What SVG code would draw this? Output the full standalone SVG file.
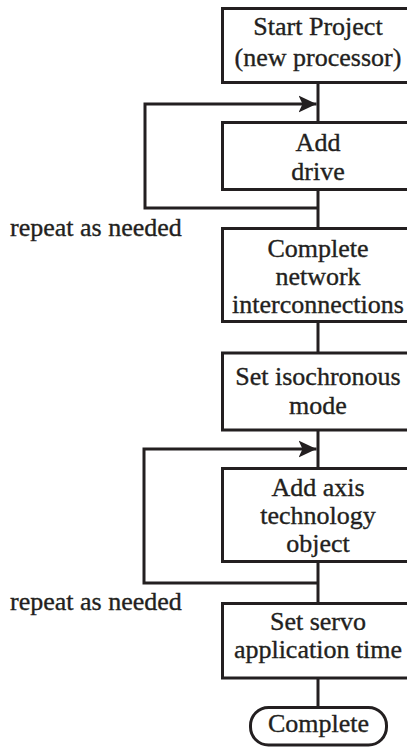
<svg xmlns="http://www.w3.org/2000/svg" width="407" height="747" viewBox="0 0 407 747">
  <style>
    .box { fill: #ffffff; stroke: #231f20; stroke-width: 3; }
    .wire { fill: none; stroke: #231f20; stroke-width: 3; }
    text { font-family: 'Liberation Serif', 'DejaVu Serif', serif; font-size: 26px; fill: #231f20; stroke: #231f20; stroke-width: 0.35; }
    .lbl { text-anchor: middle; }
  </style>
  <defs>
    <marker id="arrow" markerUnits="userSpaceOnUse" markerWidth="20" markerHeight="20" viewBox="0 0 20 20" refX="18" refY="10" orient="auto">
      <path d="M0,1.5 L18,10 L0,18.5 L4,10 Z" fill="#231f20"/>
    </marker>
  </defs>
  <rect width="407" height="747" fill="#ffffff"/>

  <!-- connectors -->
  <g id="connectors">
    <line class="wire" x1="318" y1="82" x2="318" y2="123"/>
    <line class="wire" x1="318" y1="189" x2="318" y2="229"/>
    <line class="wire" x1="318" y1="321" x2="318" y2="353"/>
    <line class="wire" x1="318" y1="430" x2="318" y2="469"/>
    <line class="wire" x1="318" y1="561" x2="318" y2="604"/>
    <line class="wire" x1="318" y1="678" x2="318" y2="708"/>
    <!-- repeat loops -->
    <path class="wire" d="M318,208 H145 V104 H316.5" marker-end="url(#arrow)"/>
    <path class="wire" d="M318,583 H144 V449 H316.5" marker-end="url(#arrow)"/>
  </g>

  <g id="start">
    <rect class="box" x="222.5" y="8.5" width="192" height="74"/>
    <text class="lbl" x="318" y="35">Start Project</text>
    <text class="lbl" x="318" y="66">(new processor)</text>
  </g>

  <g id="add-drive">
    <rect class="box" x="222.5" y="122.5" width="192" height="67"/>
    <text class="lbl" x="318" y="151">Add</text>
    <text class="lbl" x="318" y="180">drive</text>
  </g>

  <g id="repeat-1">
    <text x="10" y="236">repeat as needed</text>
  </g>

  <g id="network">
    <rect class="box" x="222.5" y="228.5" width="192" height="93"/>
    <text class="lbl" x="318" y="256.5">Complete</text>
    <text class="lbl" x="318" y="284.5">network</text>
    <text class="lbl" x="318" y="313">interconnections</text>
  </g>

  <g id="isochronous">
    <rect class="box" x="222.5" y="353" width="192" height="77"/>
    <text class="lbl" x="318" y="385">Set isochronous</text>
    <text class="lbl" x="318" y="413.5">mode</text>
  </g>

  <g id="add-axis">
    <rect class="box" x="222.5" y="468.5" width="192" height="93"/>
    <text class="lbl" x="318" y="496">Add axis</text>
    <text class="lbl" x="318" y="524">technology</text>
    <text class="lbl" x="318" y="552">object</text>
  </g>

  <g id="repeat-2">
    <text x="10" y="610">repeat as needed</text>
  </g>

  <g id="servo">
    <rect class="box" x="222.5" y="603.5" width="192" height="74.5"/>
    <text class="lbl" x="318" y="629.5">Set servo</text>
    <text class="lbl" x="318" y="658">application time</text>
  </g>

  <g id="complete">
    <rect class="box" x="250.5" y="707.5" width="136" height="37.5" rx="18" ry="18"/>
    <text class="lbl" x="318.5" y="732">Complete</text>
  </g>
</svg>
